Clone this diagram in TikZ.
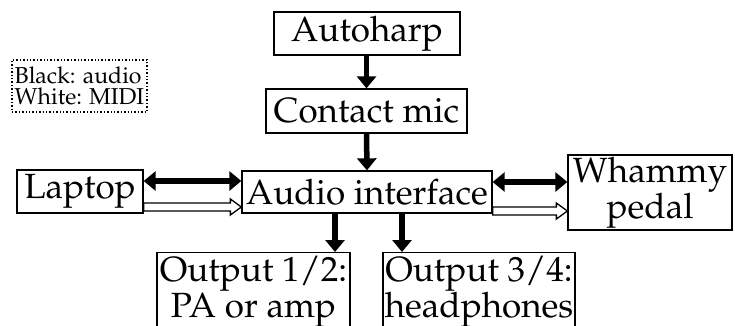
\documentclass[tikz,border=0pt]{standalone}
\usepackage[T1]{fontenc}
\usepackage{mathpazo}
\usetikzlibrary{arrows.meta, calc}

% open (MIDI) arrow, drawn as an outlined shape
\newcommand{\midiarrow}[2]{%
  \draw[line width=1.3pt, fill=white] let \p1=(#1), \p2=(#2) in
    (\x1,\y1+4pt) -- (\x2-11pt,\y1+4pt) -- (\x2-11pt,\y1+8pt) -- (\x2,\y1)
    -- (\x2-11pt,\y1-8pt) -- (\x2-11pt,\y1-4pt) -- (\x1,\y1-4pt) -- cycle;}

\begin{document}
\begin{tikzpicture}[
          x=1pt,
          y=-1pt,
          box/.style={draw, line width=1.3pt, inner sep=0pt, align=center,
            font=\fontsize{35}{36}\selectfont},
          key/.style={draw, line width=1.4pt, dotted, inner sep=0pt,
            align=left, font=\fontsize{23}{21}\selectfont},
          audio/.style={line width=5.5pt, -{Triangle[length=12pt,width=19pt]}},
          both/.style={line width=5.5pt,
            {Triangle[length=12pt,width=19pt]}-{Triangle[length=12pt,width=19pt]}},
        ]
      \useasboundingbox (0,0) rectangle (735,325);
      \node[box, minimum width=186, minimum height=43] (harp) at (367,33.5) {Autoharp};
      \node[box, minimum width=201, minimum height=44] (mic) at (366.5,111) {Contact mic};
      \node[box, minimum width=250, minimum height=42] (ai) at (367,192) {Audio interface};
      \node[box, minimum width=126, minimum height=43] (laptop) at (80,191.5) {Laptop};
      \node[box, minimum width=164, minimum height=75] (whammy) at (650,192.5) {Whammy\\pedal};
      \node[box, minimum width=193, minimum height=78, anchor=north] (out12) at (253.5,252)
        {Output 1/2:\\PA or amp};
      \node[box, minimum width=192, minimum height=78, anchor=north] (out34) at (479,252)
        {Output 3/4:\\headphones};
      \node[key, minimum width=135, minimum height=52] (legend) at (79.5,86)
        {Black: audio\\White: MIDI};

      \coordinate (la) at (0,181);
      \coordinate (lm) at (0,207);
      \coordinate (ra) at (0,182);
      \coordinate (rm) at (0,211);
      \coordinate (d1) at (335,0);
      \coordinate (d2) at (402,0);

      \draw[audio] (harp.south -| mic) -- (mic.north);
      \draw[audio] (mic.south) -- (ai.north);
      \draw[audio] (ai.south -| d1) -- (out12.north -| d1);
      \draw[audio] (ai.south -| d2) -- (out34.north -| d2);
      \draw[both] (laptop.east |- la) -- (ai.west |- la);
      \draw[both] (ai.east |- ra) -- (whammy.west |- ra);
      \midiarrow{laptop.east |- lm}{ai.west |- lm}
      \midiarrow{ai.east |- rm}{whammy.west |- rm}
    \end{tikzpicture}
\end{document}
